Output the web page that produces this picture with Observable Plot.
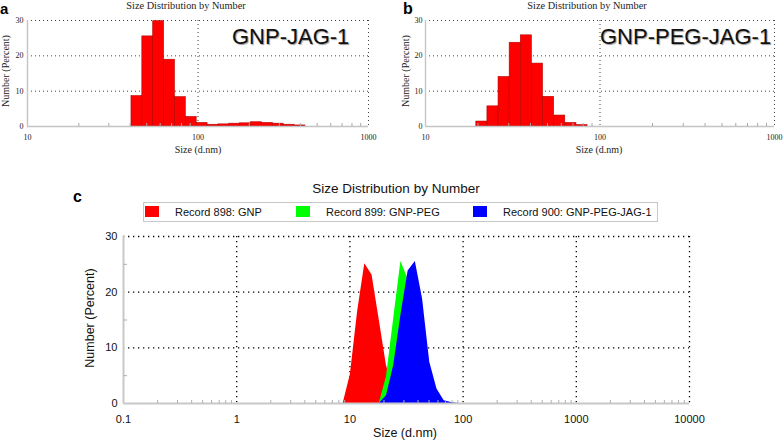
<!DOCTYPE html>
<html><head><meta charset="utf-8">
<script src="https://cdn.jsdelivr.net/npm/d3@7"></script>
<script src="https://cdn.jsdelivr.net/npm/@observablehq/plot@0.6"></script>
<style>
body{margin:0;background:#fff;}
#root{position:relative;width:784px;height:444px;overflow:hidden;background:#fff;}
.abs{position:absolute;white-space:nowrap;line-height:1;}
.panel{position:absolute;}
</style></head><body><div id="root"></div>
<script>
// ---------- data ----------
// Panel a: GNP-JAG-1 (size class centres, nm) and number %
const sizeClassesA = [43.82, 50.75, 58.77, 68.06, 78.82, 91.28, 105.7, 122.4, 141.8, 164.2, 190.1, 220.2, 255.0, 295.3, 342.0, 396.1];
const numberA = [8.6, 25.5, 29.8, 18.9, 8.3, 2.7, 1.0, 0.5, 0.6, 0.8, 0.9, 1.2, 1.0, 0.8, 0.5, 0.3];
// Panel b: GNP-PEG-JAG-1
const sizeClassesB = [21.04, 24.36, 28.21, 32.67, 37.84, 43.82, 50.75, 58.77, 68.06, 78.82];
const numberB = [1.4, 5.7, 14.0, 23.7, 25.8, 17.8, 8.4, 3.1, 1.0, 0.4];
// Panel c: overlay of three records
const sizesC = [8.721, 10.10, 11.70, 13.54, 15.69, 18.17, 21.04, 24.36, 28.21, 32.67, 37.84, 43.82, 50.75, 58.77, 68.06, 78.82, 91.28];
const gnp       = [0, 5.2, 16.5, 25.1, 23.1, 15.0, 6.8, 2.5, 0.8, 0, 0, 0, 0, 0, 0, 0, 0];
const gnpPeg    = [0, 0, 0, 0, 0, 0, 4.8, 15.2, 25.5, 22.3, 14.0, 6.5, 2.3, 0.7, 0, 0, 0];
const gnpPegJag = [0, 0, 0, 0, 0, 0, 1.4, 6.8, 15.8, 23.8, 25.5, 18.8, 7.4, 2.6, 0.5, 0.2, 0];
const seriesNames = ["Record 898: GNP", "Record 899: GNP-PEG", "Record 900: GNP-PEG-JAG-1"];
const seriesColors = ["#ff0000", "#00ff00", "#0000ff"];
const seriesValues = [gnp, gnpPeg, gnpPegJag];
const xTicksTop = [10, 100, 1000];
const xTicksC = [0.1, 1, 10, 100, 1000, 10000];
const yTicks = [0, 10, 20, 30];
const yMinor = [5, 15, 25];
const panelTitle = "Size Distribution by Number";
const labelsTop = ["GNP-JAG-1", "GNP-PEG-JAG-1"];

// ---------- helpers ----------
const root = document.getElementById("root");
const SERIF = '"Liberation Serif", "Times New Roman", serif';
const SANS = '"Liberation Sans", Arial, sans-serif';
function minorTicks(decades) {
  const out = [];
  for (const d of decades) for (let m = 2; m <= 9; m++) out.push(+(d * m).toPrecision(6));
  return out;
}
function addText(str, o) {
  const el = document.createElement("div");
  el.className = "abs";
  el.textContent = str;
  const fs = o.size;
  el.style.fontSize = fs + "px";
  el.style.fontFamily = o.family;
  el.style.fontWeight = o.weight || "normal";
  el.style.color = o.color || "#111";
  if (o.shadow) el.style.textShadow = o.shadow;
  if (o.rotate) {
    el.style.left = o.x + "px";
    el.style.top = o.y + "px";
    el.style.transform = "translate(-50%,-50%) rotate(-90deg)";
  } else {
    const asc = o.family === SERIF ? 0.8375 : 0.846;
    el.style.top = (o.y - asc * fs) + "px";
    el.style.left = o.x + "px";
    if (o.anchor === "middle") el.style.transform = "translateX(-50%)";
  }
  root.appendChild(el);
  return el;
}
function place(svg, left, top) {
  const wrap = document.createElement("div");
  wrap.className = "panel";
  wrap.style.left = left + "px";
  wrap.style.top = top + "px";
  wrap.appendChild(svg);
  root.appendChild(wrap);
}

// ---------- top panels ----------
function topPanel(sizes, values, marginLeft, marginRight, tickPad) {
  const step = Math.sqrt(sizes[1] / sizes[0]);
  const rows = sizes.map((s, i) => ({size: s, value: values[i]}));
  const dotted = {stroke: "#444", strokeDasharray: "1,3", strokeWidth: 1};
  return Plot.plot({
    width: 392, height: 170,
    marginLeft, marginRight, marginTop: 20, marginBottom: 44,
    x: {type: "log", domain: [10, 1000]},
    y: {domain: [0, 30]},
    style: {fontFamily: SERIF, fontSize: "8px", color: "#222", background: "transparent", overflow: "visible"},
    marks: [
      Plot.ruleY(yTicks.slice(1), dotted),
      Plot.ruleX(xTicksTop.slice(1), dotted),
      Plot.rectY(rows, {x1: d => d.size / step, x2: d => d.size * step, y: "value", fill: "#ff0000", stroke: "#b40000", strokeWidth: 0.6}),
      Plot.ruleX([10], {stroke: "#c4c4c4", strokeWidth: 1.4}),
      Plot.ruleY([0], {stroke: "#c4c4c4", strokeWidth: 1.4}),
      Plot.axisX(minorTicks([10, 100]), {tickSize: -3, tickFormat: () => "", stroke: "#a8a8a8", label: null}),
      Plot.axisX(xTicksTop, {tickSize: 0, tickPadding: 8, tickFormat: d => String(d), label: null}),
      Plot.axisY(yTicks, {tickSize: 0, tickPadding: tickPad, label: null})
    ]
  });
}
place(topPanel(sizeClassesA, numberA, 27, 24, 4), 0, 0);
place(topPanel(sizeClassesB, numberB, 33, 10, 3), 392, 0);

// texts for top panels
addText("a", {x: 0, y: 13.7, size: 15, family: SANS, weight: "bold", color: "#000"});
addText("b", {x: 403, y: 14.5, size: 16, family: SANS, weight: "bold", color: "#000"});
addText(panelTitle, {x: 186, y: 9.3, size: 10.3, family: SERIF, anchor: "middle", color: "#222"});
addText(panelTitle, {x: 587, y: 9.3, size: 10.3, family: SERIF, anchor: "middle", color: "#222"});
addText(labelsTop[0], {x: 232, y: 45, size: 22, family: SANS, color: "#111", shadow: "1px 1px 1px #9a9a9a"});
addText(labelsTop[1], {x: 600, y: 45, size: 22, family: SANS, color: "#111", shadow: "1px 1px 1px #9a9a9a"});
addText("Number (Percent)", {x: 6, y: 71, size: 10, family: SERIF, rotate: true, color: "#222"});
addText("Number (Percent)", {x: 406, y: 71, size: 10, family: SERIF, rotate: true, color: "#222"});
addText("Size (d.nm)", {x: 198, y: 153, size: 10, family: SERIF, anchor: "middle", color: "#222"});
addText("Size (d.nm)", {x: 599, y: 153, size: 10, family: SERIF, anchor: "middle", color: "#222"});

// ---------- panel c ----------
const dotC = {stroke: "#000", strokeDasharray: "1.3,3.7", strokeWidth: 1.3};
const areaMarks = seriesValues.map((vals, k) =>
  Plot.areaY(sizesC.map((s, i) => ({size: s, value: vals[i]})).filter((d, i, a) => d.value > 0 || (a[i + 1] && a[i + 1].value > 0) || (a[i - 1] && a[i - 1].value > 0)),
    {x: "size", y: "value", fill: seriesColors[k], curve: "linear"})
);
const plotC = Plot.plot({
  width: 784, height: 219,
  marginLeft: 123, marginRight: 95, marginTop: 11, marginBottom: 41,
  x: {type: "log", domain: [0.1, 10000]},
  y: {domain: [0, 30]},
  style: {fontFamily: SANS, fontSize: "11px", color: "#111", background: "transparent", overflow: "visible"},
  marks: [
    Plot.ruleY(yTicks.slice(1), dotC),
    Plot.ruleX(xTicksC.slice(1), dotC),
    ...areaMarks,
    Plot.ruleX([0.1], {stroke: "#c8c8c8", strokeWidth: 2}),
    Plot.ruleY([0], {stroke: "#c8c8c8", strokeWidth: 2}),
    Plot.axisX(minorTicks([0.1, 1, 10, 100, 1000]), {tickSize: -3, tickFormat: () => "", stroke: "#b0b0b0", label: null}),
    Plot.axisY(yMinor, {tickSize: -4, tickFormat: () => "", stroke: "#b0b0b0", label: null}),
    Plot.axisX(xTicksC, {tickSize: 0, tickPadding: 12, tickFormat: d => String(d), label: null}),
    Plot.axisY(yTicks, {tickSize: 0, tickPadding: 6, label: null})
  ]
});
place(plotC, 0, 225);

addText("c", {x: 73, y: 203, size: 16, family: SANS, weight: "bold", color: "#000"});
addText(panelTitle, {x: 396, y: 193, size: 13.5, family: SANS, anchor: "middle", color: "#111"});
addText("Number (Percent)", {x: 90, y: 318, size: 12.5, family: SANS, rotate: true, color: "#111"});
addText("Size (d.nm)", {x: 405, y: 438, size: 12.5, family: SANS, anchor: "middle", color: "#111"});

// legend
const box = document.createElement("div");
box.className = "abs";
Object.assign(box.style, {left: "143px", top: "202px", width: "513px", height: "18px", border: "1px solid #c8c8c8"});
root.appendChild(box);
const swatchX = [145, 296, 473];
const textX = [175, 326, 503];
seriesNames.forEach((name, k) => {
  const sw = document.createElement("div");
  sw.className = "abs";
  Object.assign(sw.style, {left: swatchX[k] + "px", top: "206px", width: "14px", height: "11px", background: seriesColors[k]});
  root.appendChild(sw);
  addText(name, {x: textX[k], y: 216, size: 11, family: SANS, color: "#111"});
});
</script></body></html>
